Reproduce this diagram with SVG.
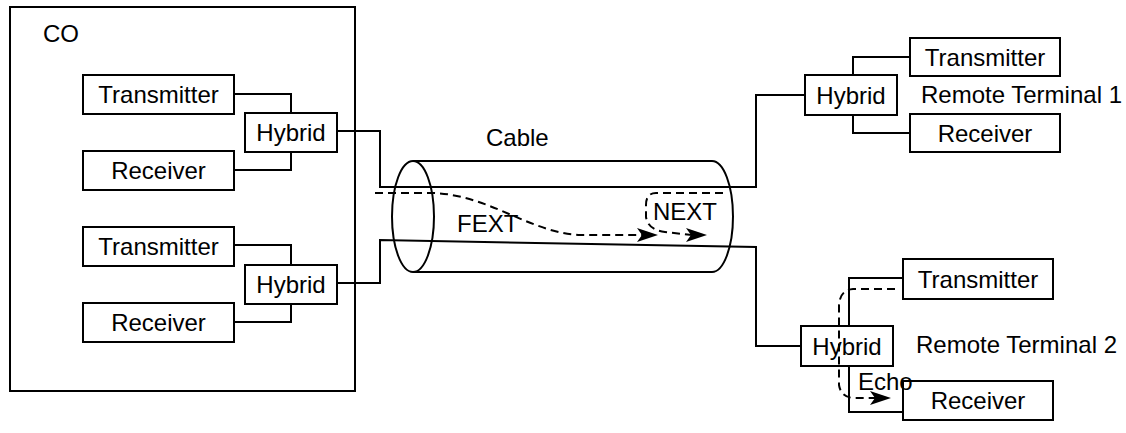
<svg xmlns="http://www.w3.org/2000/svg" xmlns:xlink="http://www.w3.org/1999/xlink" width="1126" height="433" viewBox="0 0 1126 433">
<defs>
<style>
.box{fill:#fff;stroke:#000;stroke-width:2}
.w{fill:none;stroke:#000;stroke-width:2}
.d{fill:none;stroke:#000;stroke-width:2;stroke-dasharray:8,5}
text{font-family:"Liberation Sans",Arial,Helvetica,sans-serif;font-size:24px;fill:#000}
.c{text-anchor:middle}
</style>
<path id="arr" d="M0,0 L-21,-7 L-16,0 L-21,7 z" fill="#000"/>
</defs>
<rect width="1126" height="433" fill="#fff"/>
<g id="co">
<rect x="10" y="7" width="345" height="384" fill="none" stroke="#000" stroke-width="2"/>
<text x="43" y="42">CO</text>
</g>
<g id="connectors">
<path class="w" d="M234,94 H291 V113"/>
<path class="w" d="M234,170 H291 V152"/>
<path class="w" d="M337,131 H380 V187 H756 V95 H805"/>
<path class="w" d="M234,245 H291 V265"/>
<path class="w" d="M234,322 H291 V304"/>
<path class="w" d="M337,283 H380 V240 L756,247 V346 H801"/>
<path class="w" d="M853,75 V57 H910"/>
<path class="w" d="M853,115 V133 H910"/>
<path class="w" d="M849,326 V278 H903"/>
<path class="w" d="M849,366 V412 H903"/>
</g>
<g id="cable">
<ellipse cx="413" cy="216.5" rx="21" ry="55.5" fill="none" stroke="#000" stroke-width="2"/>
<path class="w" d="M413,161 H712 A21,55.5 0 0 1 712,272 H413"/>
<text x="486" y="146">Cable</text>
</g>
<g id="fext">
<path class="d" d="M375,193 L433,193 C490,195 530,233 580,235 L643,235"/>
<use xlink:href="#arr" href="#arr" x="658" y="235"/>
<text x="457" y="232">FEXT</text>
</g>
<g id="next">
<path class="d" d="M723,193 L656,193 Q646,193 646,205 L646,217 Q648,230 665,232 L692,235"/>
<use xlink:href="#arr" href="#arr" x="707" y="235"/>
<text x="653" y="220">NEXT</text>
</g>
<g id="co-tx1"><rect class="box" x="83" y="75" width="151" height="39"/><text class="c" x="158.5" y="103">Transmitter</text></g>
<g id="co-hyb1"><rect class="box" x="245" y="113" width="92" height="39"/><text class="c" x="291" y="141">Hybrid</text></g>
<g id="co-rx1"><rect class="box" x="83" y="151" width="151" height="39"/><text class="c" x="158.5" y="179">Receiver</text></g>
<g id="co-tx2"><rect class="box" x="83" y="227" width="151" height="39"/><text class="c" x="158.5" y="255">Transmitter</text></g>
<g id="co-hyb2"><rect class="box" x="245" y="265" width="92" height="39"/><text class="c" x="291" y="293">Hybrid</text></g>
<g id="co-rx2"><rect class="box" x="83" y="303" width="151" height="39"/><text class="c" x="158.5" y="331">Receiver</text></g>
<g id="rt1">
<g id="rt1-hyb"><rect class="box" x="805" y="75" width="92" height="40"/><text class="c" x="851" y="103.5">Hybrid</text></g>
<g id="rt1-tx"><rect class="box" x="910" y="38" width="150" height="38"/><text class="c" x="985" y="65.5">Transmitter</text></g>
<g id="rt1-rx"><rect class="box" x="910" y="114" width="150" height="38"/><text class="c" x="985" y="141.5">Receiver</text></g>
<text x="921" y="103">Remote Terminal 1</text>
</g>
<g id="rt2">
<g id="rt2-hyb"><rect class="box" x="801" y="326" width="92" height="40"/><text class="c" x="847" y="354.5">Hybrid</text></g>
<g id="rt2-tx"><rect class="box" x="903" y="259" width="150" height="40"/><text class="c" x="978" y="287.5">Transmitter</text></g>
<g id="rt2-rx"><rect class="box" x="903" y="381" width="150" height="39"/><text class="c" x="978" y="409">Receiver</text></g>
<text x="916" y="353">Remote Terminal 2</text>
</g>
<g id="echo">
<path class="d" d="M895,289 L853,289 Q840,290 839,305 L839,385 Q841,398 855,398 L876,398"/>
<use xlink:href="#arr" href="#arr" x="891" y="398"/>
<text x="858" y="390">Echo</text>
</g>
</svg>
